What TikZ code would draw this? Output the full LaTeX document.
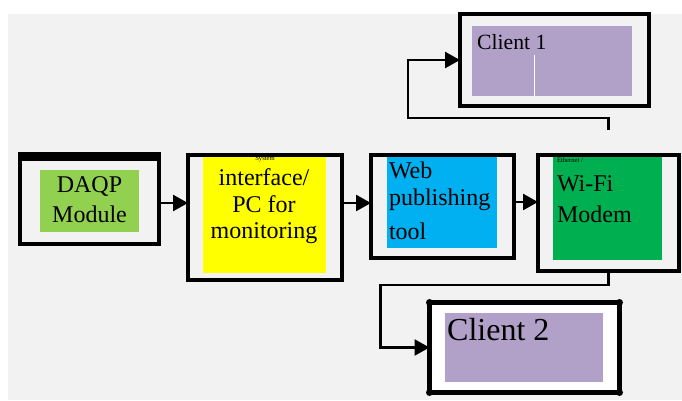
\documentclass[tikz,border=0pt]{standalone}
\usepackage{fontspec}
\setmainfont{Liberation Serif}
\usetikzlibrary{arrows.meta,calc}
\definecolor{bggray}{HTML}{F2F2F2}
\definecolor{daqpgreen}{HTML}{92D050}
\definecolor{sysyellow}{HTML}{FFFF00}
\definecolor{webblue}{HTML}{00B0F0}
\definecolor{wifigreen}{HTML}{00B050}
\definecolor{clientpurple}{HTML}{B1A0C7}
\begin{document}
\begin{tikzpicture}[x=1pt,y=-1pt,
  box/.style={draw=black, line width=4pt, inner sep=0pt, outer sep=0pt},
  panel/.style={inner sep=0pt, outer sep=0pt},
  lbl/.style={inner sep=0pt, outer sep=0pt, font=\fontsize{24}{27}\selectfont},
  tinylbl/.style={inner sep=0pt, outer sep=0pt, font=\fontsize{6.6}{7}\selectfont},
  conn/.style={line width=2.5pt, -{Triangle[length=15pt,width=16pt]}},
]
\useasboundingbox (0,0) rectangle (682,400);
\fill[white] (0,0) rectangle (682,400);
\fill[bggray] (8,14) rectangle (682,400);

% DAQP module
\node[box, minimum width=139pt, minimum height=90pt] (daqp) at (89.5,199) {};
\fill[black] (18,152) rectangle (161,161);
\node[panel, fill=daqpgreen, minimum width=99pt, minimum height=62pt] (daqpin) at (89.5,201) {};
\node[lbl, align=center, font=\fontsize{24}{30}\selectfont] (daqptxt) at (89.5,200) {DAQP\\Module};

% System interface
\node[box, minimum width=154pt, minimum height=125pt] (sys) at (265,217.5) {};
\node[panel, fill=sysyellow, minimum width=123pt, minimum height=116pt] (sysin) at (264.5,215) {};
\node[tinylbl, anchor=base] (systxt) at (265,160) {System};
\node[lbl, align=center, anchor=north, font=\fontsize{24}{26.5}\selectfont] (pctxt) at (264,168.6) {interface/\\PC for\\monitoring};

% Web publishing tool
\node[box, minimum width=143pt, minimum height=103pt] (web) at (442.5,206.5) {};
\node[panel, fill=webblue, minimum width=110pt, minimum height=91pt] (webin) at (442,202.5) {};
\node[lbl, align=left, anchor=north west] (webtxt) at (389,161.6) {Web\\publishing\\[7pt]tool};

% Wi-Fi modem
\node[box, minimum width=141pt, minimum height=116pt] (wifi) at (608.5,213) {};
\node[panel, fill=wifigreen, minimum width=109pt, minimum height=103pt] (wifiin) at (607.5,208.5) {};
\node[tinylbl, anchor=base west] (ethtxt) at (557,162) {Ethernet /};
\node[lbl, align=left, anchor=north west, font=\fontsize{24}{31}\selectfont] (wifitxt) at (557,175.6) {Wi-Fi\\Modem};

% Client 1
\node[box, minimum width=189pt, minimum height=92pt] (client1) at (554.5,60) {};
\node[panel, fill=clientpurple, minimum width=160pt, minimum height=70pt] (c1in) at (552,61) {};
\draw[white, line width=0.8pt] (534,55) -- (534,96);
\node[inner sep=0pt, anchor=base west, font=\fontsize{21.7}{24}\selectfont] (c1txt) at (477,49) {Client 1};

% Client 2
\node[box, line width=5pt, fill=white, minimum width=190pt, minimum height=90pt] (client2) at (524.5,347.5) {};
\foreach \a in {north west, north east, south west, south east} \fill (client2.\a) circle (3.5pt);
\node[panel, fill=clientpurple, minimum width=158pt, minimum height=69pt] (c2in) at (524,347.5) {};
\node[inner sep=0pt, anchor=base west, font=\fontsize{32}{36}\selectfont] (c2txt) at (447,340) {Client 2};

% connectors
\coordinate (row) at (0,203);
\coordinate (rowb) at (0,202);
\draw[conn] (daqp.east |- row) -- (sys.west |- row);
\draw[conn] (sys.east |- row) -- (web.west |- row);
\draw[conn] (web.east |- rowb) -- (wifi.west |- rowb);

\coordinate (c1s) at ($(wifi.north)+(0,-25)$);
\coordinate (c1a) at ($(wifi.north)+(0,-37)$);
\coordinate (c1b) at (408,118);
\draw[conn] (c1s) -- (c1a) -- (c1b) |- (client1.west);

\coordinate (c2b) at ($(client2.west)+(-49,0)$);
\draw[conn] (wifi.south) -- ++(0,14) -| (c2b) -- (client2.west);
\end{tikzpicture}
\end{document}
